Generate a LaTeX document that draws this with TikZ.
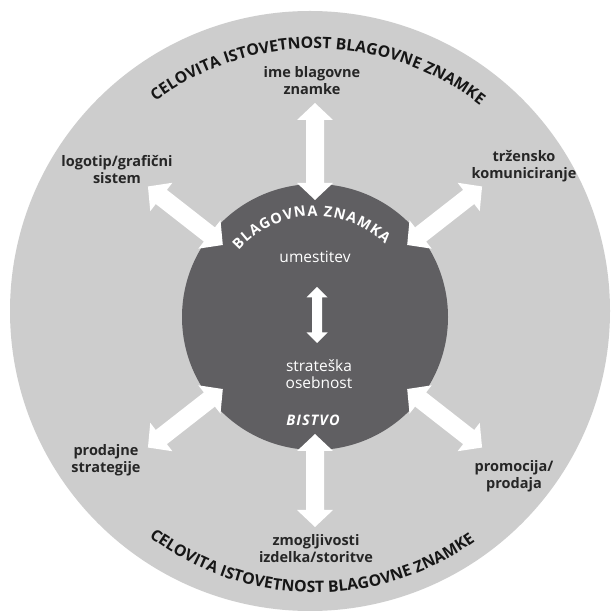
\documentclass[tikz,border=0pt]{standalone}
\usepackage{fontspec}
\setmainfont{Open Sans}
\usetikzlibrary{decorations.text}
\definecolor{ringgray}{RGB}{205,205,205}
\definecolor{coregray}{RGB}{96,95,98}
\definecolor{lbltext}{RGB}{38,38,38}
\definecolor{arctext}{RGB}{22,22,22}
\tikzset{
  lbl/.style={font=\bfseries\fontsize{14.5}{17}\selectfont, text=lbltext, align=center, inner sep=0pt},
  inlbl/.style={font=\fontsize{15.5}{17}\selectfont, text=white, align=center, inner sep=0pt},
  fatarrow/.style={fill=white, draw=none}
}
\begin{document}
\begin{tikzpicture}[x=1pt,y=1pt]
\useasboundingbox (0,0) rectangle (614,616);
\fill[white] (0,0) rectangle (614,616);
% outer ring
\fill[ringgray] (310,305) circle[radius=300];
% core
\coordinate (C) at (315,299);
\fill[coregray] (C) circle[radius=133];
% double arrows
\foreach \a/\ro in {90/214, 270/210, 38/212, 142/212, 218/212, 322/212}{
  \fill[fatarrow, shift={(C)}, rotate=\a]
    (117,0) -- (134,18) -- (134,9) -- ({\ro-17},9) -- ({\ro-17},18) -- (\ro,0)
    -- ({\ro-17},-18) -- ({\ro-17},-9) -- (134,-9) -- (134,-18) -- cycle;
}
% central small arrow
\fill[fatarrow] (317,273) -- (327.5,283.5) -- (322,283.5) -- (322,318.5) -- (327.5,318.5)
  -- (317,329) -- (306.5,318.5) -- (312,318.5) -- (312,283.5) -- (306.5,283.5) -- cycle;
% labels
\node[lbl] (top) at (312,535) {ime blagovne\\znamke};
\node[lbl] (ne) at (524,450) {tržensko\\komuniciranje};
\node[lbl] (nw) at (117,446) {logotip/grafični\\sistem};
\node[lbl] (sw) at (106,156) {prodajne\\strategije};
\node[lbl] (se) at (514,140) {promocija/\\prodaja};
\node[lbl] (bot) at (316,67) {zmogljivosti\\izdelka/storitve};
\node[inlbl] (pos) at (315,359) {umestitev};
\node[inlbl] (pers) at (319,242) {strateška\\osebnost};
\node[inlbl, font=\bfseries\itshape\fontsize{14.5}{17}\selectfont] (ess) at (313,196)
  {B\kern1ptI\kern1ptS\kern1ptT\kern1ptV\kern1ptO};
% arc texts (polyline arcs so the text follows the curve)
\path[decorate, decoration={text along path,
  text={|\fontsize{15.8}{16}\selectfont\bfseries\color{arctext}|CELOVITA ISTOVETNOST BLAGOVNE ZNAMKE},
  text align={fit to path}}]
  plot[domain=0:1, samples=150, variable=\t] ({315+268.5*cos(126.5-74*\t)}, {299+268.5*sin(126.5-74*\t)});
\path[decorate, decoration={text along path,
  text={|\fontsize{15.8}{16}\selectfont\bfseries\color{arctext}|CELOVITA ISTOVETNOST BLAGOVNE ZNAMKE},
  text align={fit to path}}]
  plot[domain=0:1, samples=150, variable=\t] ({315+275.5*cos(233+72*\t)}, {299+275.5*sin(233+72*\t)});
\path[decorate, decoration={text along path,
  text={|\bfseries\fontsize{14.5}{15}\selectfont\color{white}|BLAGOVNA ZNAMKA},
  text align={fit to path}}]
  plot[domain=0:1, samples=80, variable=\t] ({315+101*cos(139-93*\t)}, {299+101*sin(139-93*\t)});
\end{tikzpicture}
\end{document}
